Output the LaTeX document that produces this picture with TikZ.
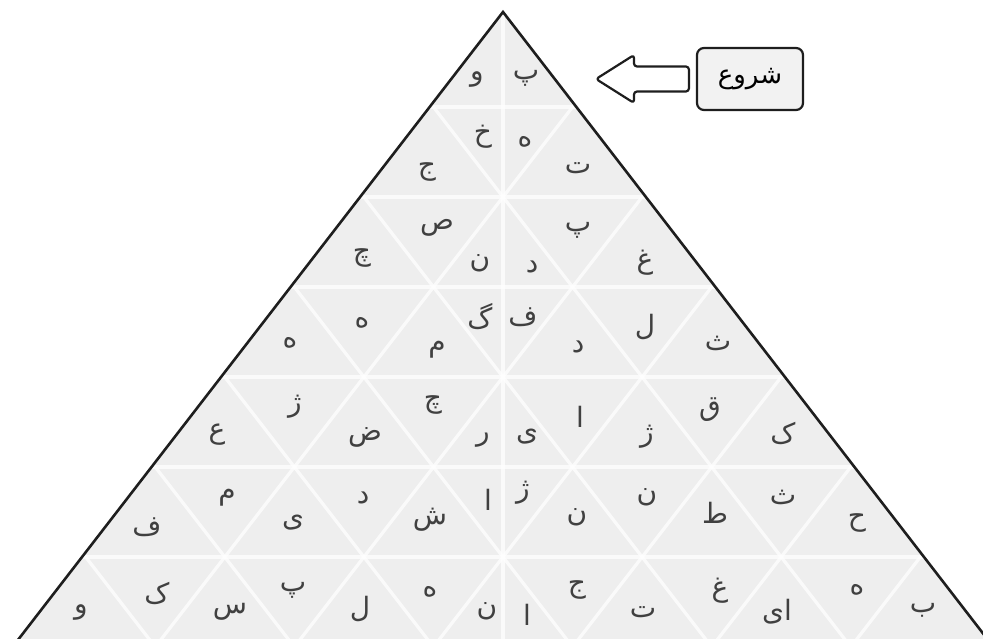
\documentclass[tikz,border=0pt]{standalone}
\usepackage{fontspec}
\newfontfamily\arabicfont[Script=Arabic]{DejaVu Sans}
\TeXXeTstate=1
\usetikzlibrary{calc}
\definecolor{tilegray}{HTML}{EEEEEE}
\definecolor{boxgray}{HTML}{F2F2F2}
\definecolor{inkdark}{HTML}{1E1E1E}
\newcommand{\rtl}[1]{\beginR#1\endR}
\begin{document}
\begin{tikzpicture}[x=1pt,y=-1pt,
  letter/.style={font=\arabicfont\fontsize{28}{31}\selectfont, inner sep=0pt, text=inkdark!85},
  gridline/.style={white, line width=3.2pt, opacity=0.75},
  outline/.style={inkdark, line width=2.6pt, line join=miter},
  startbox/.style={draw=inkdark, line width=2.2pt, rounded corners=7pt, fill=boxgray,
    minimum width=106pt, minimum height=62pt, inner sep=0pt,
    font=\arabicfont\fontsize{26}{29}\selectfont},
  blockarrow/.style={draw=inkdark, line width=2.2pt, fill=white, rounded corners=3pt, line join=round}]
\useasboundingbox (0,0) rectangle (983,639);
% triangle body
\fill[tilegray] (503,12) -- (12.5,647) -- (993.5,647) -- cycle;
\begin{scope}
  \clip (503,12) -- (12.5,647) -- (993.5,647) -- cycle;
  \foreach \k in {1,...,6} { \draw[gridline] (0,{17+90*\k}) -- (983,{17+90*\k}); }
  \foreach \j in {1,...,6} {
    \draw[gridline] ({16.15+\j*139.1},647) -- ++(486.85,-630);
    \draw[gridline] ({16.15+\j*139.1},647) -- ++(-486.85,-630);
  }
  \draw[gridline] (503,0) -- (503,650);
\end{scope}
\draw[outline] (503,12) -- (12.5,647) -- (993.5,647) -- cycle;
% start box and arrow
\node[startbox] (start) at (750,79) {\rtl{شروع}};
\coordinate (tip) at (596,79);
\draw[blockarrow] (tip) -- (634,55) -- (634,66.5) -- ($(start.west)+(-7,-12.5)$)
  -- ($(start.west)+(-7,12.5)$) -- (634,91.5) -- (634,103) -- cycle;
% row 1
\node[letter] (a1) at (477,80) {\rtl{و}};
\node[letter] (a2) at (526,78) {\rtl{پ}};
% row 2
\node[letter] (b1) at (427,172) {\rtl{ج}};
\node[letter] (b2) at (483,137) {\rtl{خ}};
\node[letter] (b3) at (525,142) {\rtl{ه}};
\node[letter] (b4) at (578,168) {\rtl{ت}};
% row 3
\node[letter] (c1) at (362,258) {\rtl{چ}};
\node[letter] (c2) at (437,228) {\rtl{ص}};
\node[letter] (c3) at (480,263) {\rtl{ن}};
\node[letter] (c4) at (532,267) {\rtl{د}};
\node[letter] (c5) at (578,230) {\rtl{پ}};
\node[letter] (c6) at (645,263) {\rtl{غ}};
% row 4
\node[letter] (d1) at (290,343) {\rtl{ه}};
\node[letter] (d2) at (362,323) {\rtl{ه}};
\node[letter] (d3) at (437,350) {\rtl{م}};
\node[letter] (d4) at (480,317) {\rtl{گ}};
\node[letter] (d5) at (523,317) {\rtl{ف}};
\node[letter] (d6) at (578,347) {\rtl{د}};
\node[letter] (d7) at (645,327) {\rtl{ل}};
\node[letter] (d8) at (718,343) {\rtl{ث}};
% row 5
\node[letter] (e1) at (217,435) {\rtl{ع}};
\node[letter] (e2) at (295,407) {\rtl{ژ}};
\node[letter] (e3) at (365,437) {\rtl{ض}};
\node[letter] (e4) at (433,405) {\rtl{چ}};
\node[letter] (e5) at (483,440) {\rtl{ر}};
\node[letter] (e6) at (527,437) {\rtl{ی}};
\node[letter] (e7) at (580,417) {\rtl{ا}};
\node[letter] (e8) at (647,437) {\rtl{ژ}};
\node[letter] (e9) at (710,410) {\rtl{ق}};
\node[letter] (e10) at (783,433) {\rtl{ک}};
% row 6
\node[letter] (f1) at (147,527) {\rtl{ف}};
\node[letter] (f2) at (227,498) {\rtl{م}};
\node[letter] (f3) at (293,523) {\rtl{ی}};
\node[letter] (f4) at (363,498) {\rtl{د}};
\node[letter] (f5) at (430,520) {\rtl{ش}};
\node[letter] (f6) at (488,500) {\rtl{ا}};
\node[letter] (f7) at (523,493) {\rtl{ژ}};
\node[letter] (f8) at (577,517) {\rtl{ن}};
\node[letter] (f9) at (647,497) {\rtl{ن}};
\node[letter] (f10) at (715,513) {\rtl{ط}};
\node[letter] (f11) at (783,497) {\rtl{ث}};
\node[letter] (f12) at (857,523) {\rtl{ح}};
% row 7
\node[letter] (g1) at (81,612) {\rtl{و}};
\node[letter] (g2) at (157,593) {\rtl{ک}};
\node[letter] (g3) at (230,612) {\rtl{س}};
\node[letter] (g4) at (293,590) {\rtl{پ}};
\node[letter] (g5) at (360,609) {\rtl{ل}};
\node[letter] (g6) at (430,592) {\rtl{ه}};
\node[letter] (g7) at (487,611) {\rtl{ن}};
\node[letter] (g8) at (527,615) {\rtl{ا}};
\node[letter] (g9) at (577,590) {\rtl{ج}};
\node[letter] (g10) at (643,612) {\rtl{ت}};
\node[letter] (g11) at (720,591) {\rtl{غ}};
\node[letter] (g12) at (777,612) {\rtl{ای}};
\node[letter] (g13) at (857,590) {\rtl{ه}};
\node[letter] (g14) at (923,610) {\rtl{ب}};
\end{tikzpicture}
\end{document}
